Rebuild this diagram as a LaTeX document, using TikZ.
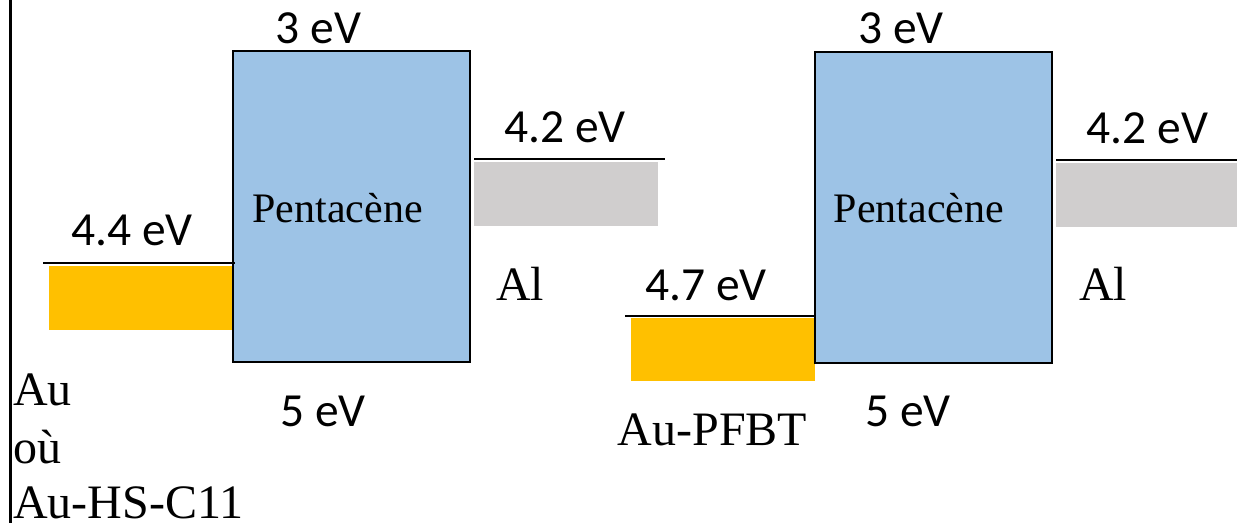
\documentclass[tikz,border=0pt]{standalone}
\usepackage{fontspec}
\setmainfont{Liberation Serif}
\newfontfamily\calibri{Carlito}
\usetikzlibrary{positioning}
\definecolor{pentablue}{HTML}{9DC3E6}
\definecolor{augold}{HTML}{FFC000}
\definecolor{algray}{HTML}{D0CECE}

\begin{document}
\begin{tikzpicture}[x=1pt, y=-1pt,
		ev/.style={font=\calibri\fontsize{47.5}{55}\selectfont, anchor=base, inner sep=0pt},
		lab/.style={font=\fontsize{48}{58}\selectfont, anchor=base, inner sep=0pt},
		level/.style={line width=1.2pt},
		semi/.style={draw=black, line width=2.5pt, fill=pentablue, minimum width=237pt, minimum height=311pt, inner sep=0pt}]
			\useasboundingbox (0,0) rectangle (1237,523);
			\draw[line width=3pt] (10,0) -- (10,523);
			% metals
			\fill[augold] (49,266) rectangle (233,330);
			\fill[algray] (474,162) rectangle (658,226);
			\fill[augold] (631,318) rectangle (815,381);
			\fill[algray] (1056,163) rectangle (1237,227);
			% pentacene
			\node[semi] (pa) at (351.5,206.5) {};
			\node[semi] (pb) at (933.5,207.5) {};
			% work functions
			\coordinate (aul1) at (43,263);
			\coordinate (aul2) at (235,263);
			\coordinate (all1) at (474,159);
			\coordinate (all2) at (665,159);
			\coordinate (aur1) at (625,316);
			\coordinate (aur2) at (816,316);
			\coordinate (alr1) at (1056,160);
			\coordinate (alr2) at (1237,160);
			\draw[level] (aul1) -- (aul2);
			\draw[level] (all1) -- (all2);
			\draw[level] (aur1) -- (aur2);
			\draw[level] (alr1) -- (alr2);
			\begin{scope}[every node/.style={ev}]
				\node (lumoa) at (318.5,43) {3 eV};
				\node (lumob) at (901,43) {3 eV};
				\node (homoa) at (323,426) {5 eV};
				\node (homob) at (908,426) {5 eV};
				\node (wal) at (565,142) {4.2 eV};
				\node (war) at (1147.5,143) {4.2 eV};
				\node (wau) at (132,245) {4.4 eV};
				\node (wpf) at (706,300) {4.7 eV};
			\end{scope}
			\begin{scope}[every node/.style={lab}]
				\node[font=\fontsize{42}{50}\selectfont] (pta) at (337.5,222) {Pentacène};
				\node[font=\fontsize{42}{50}\selectfont] (ptb) at (919,222) {Pentacène};
				\node (ala) at (520,300) {Al};
				\node (alb) at (1103,300) {Al};
				\node (aupf) at (712.5,445) {Au-PFBT};
				\node[anchor=base west] (au) at (13,405) {Au};
				\node[anchor=base west] (ou) at (13,463) {où};
				\node[anchor=base west] (aush) at (13,518) {Au-HS-C11};
			\end{scope}
		\end{tikzpicture}
\end{document}
